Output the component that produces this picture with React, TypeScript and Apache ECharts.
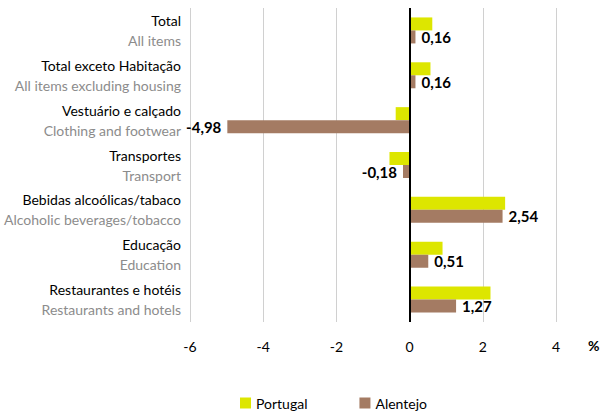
import React, { useEffect, useRef } from "react";
import * as echarts from "echarts";

const categoriesPt = [
  "Total",
  "Total exceto Habitação",
  "Vestuário e calçado",
  "Transportes",
  "Bebidas alcoólicas/tabaco",
  "Educação",
  "Restaurantes e hotéis",
];
const categoriesEn = [
  "All items",
  "All items excluding housing",
  "Clothing and footwear",
  "Transport",
  "Alcoholic beverages/tobacco",
  "Education",
  "Restaurants and hotels",
];
const portugal = [0.62, 0.57, -0.38, -0.55, 2.61, 0.9, 2.21];
const alentejo = [0.16, 0.16, -4.98, -0.18, 2.54, 0.51, 1.27];
const seriesNames = ["Portugal", "Alentejo"];

const FONT = "Lato, 'Open Sans', sans-serif";

export default function App() {
  const ref = useRef<HTMLDivElement>(null);
  useEffect(() => {
    if (!ref.current) return;
    const chart = echarts.init(ref.current, null, { renderer: "svg" });
    chart.setOption({
      animation: false,
      textStyle: { fontFamily: FONT },
      grid: { left: 190, right: 45, top: 8, bottom: 96, containLabel: false },
      legend: {
        bottom: 3,
        left: 235,
        itemWidth: 11,
        itemHeight: 11,
        itemGap: 52,
        icon: "rect",
        textStyle: { fontSize: 14, color: "#000", fontFamily: FONT },
        data: seriesNames,
      },
      xAxis: {
        type: "value",
        min: -6,
        max: 4,
        interval: 2,
        axisLine: { show: false },
        axisTick: { show: false },
        splitLine: { lineStyle: { color: "#d0d0d0", width: 1 } },
        axisLabel: { color: "#000", fontSize: 14, margin: 17, fontFamily: FONT },
      },
      yAxis: {
        type: "category",
        inverse: true,
        data: categoriesPt,
        axisLine: { show: false },
        axisTick: { show: false },
        splitLine: { show: false },
        axisLabel: {
          margin: 9,
          formatter: (v: string, i: number) => `{a|${v}}\n{b|${categoriesEn[i]}}`,
          rich: {
            a: { color: "#000", fontSize: 14, lineHeight: 20, fontFamily: FONT, align: "right" },
            b: { color: "#8c8c8c", fontSize: 14, lineHeight: 20, fontFamily: FONT, align: "right" },
          },
        },
      },
      graphic: [
        {
          type: "text",
          left: 588,
          top: 338,
          style: { text: "%", fontSize: 14, fontWeight: "bold", fill: "#000", fontFamily: FONT },
        },
      ],
      series: [
        {
          name: seriesNames[0],
          type: "bar",
          data: portugal,
          barWidth: 13,
          barGap: "0%",
          itemStyle: { color: "#DDE600" },
        },
        {
          name: seriesNames[1],
          type: "bar",
          data: alentejo.map((v) =>
            v < 0 ? { value: v, label: { position: "left" } } : { value: v }
          ),
          barWidth: 13,
          itemStyle: { color: "#A47B63" },
          label: {
            show: true,
            position: "right",
            distance: 6,
            fontSize: 15,
            fontWeight: "bold",
            color: "#000",
            fontFamily: FONT,
            formatter: (p: any) => Number(p.value).toFixed(2).replace(".", ","),
          },
          markLine: {
            silent: true,
            symbol: "none",
            label: { show: false },
            lineStyle: { color: "#000", width: 2, type: "solid" },
            data: [{ xAxis: 0 }],
          },
        },
      ],
    });
    return () => chart.dispose();
  }, []);
  return <div ref={ref} style={{ width: 601, height: 418, position: "absolute", left: 0, top: 0 }} />;
}
